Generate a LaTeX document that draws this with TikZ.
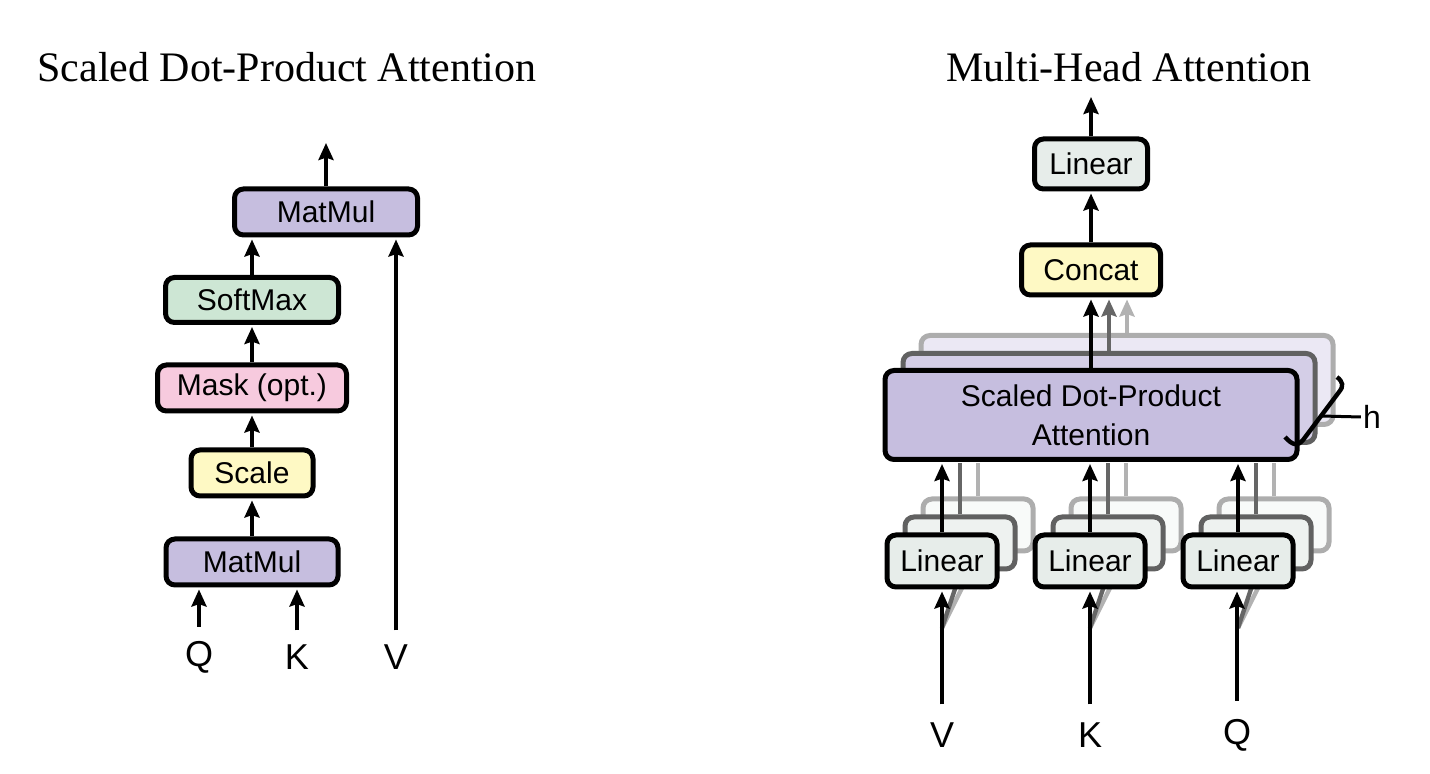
\documentclass[tikz,border=0pt]{standalone}
\usepackage{fontspec}
\setmainfont{Liberation Serif}
\newfontfamily\labfont{Liberation Sans}
\usepackage{tikz}
\usetikzlibrary{positioning, arrows.meta}

\definecolor{attn}{RGB}{198,190,223}
\definecolor{softc}{RGB}{205,230,212}
\definecolor{maskc}{RGB}{247,202,222}
\definecolor{scalec}{RGB}{254,249,196}
\definecolor{linc}{RGB}{231,237,234}

\begin{document}
\begin{tikzpicture}[x=0.5pt, y=-0.5pt, ->, >={Stealth[length=8.5pt, width=7.5pt, inset=1.2pt]}, line width=2.2pt,
    box/.style={draw, line width=2.5pt, rounded corners=4.5pt, inner sep=0pt,
        minimum height=23pt, font=\labfont\fontsize{15}{19.5}\selectfont},
    copya/.style={box, draw=black!62},
    copyb/.style={box, draw=black!32},
    lbl/.style={inner sep=0pt, font=\labfont\fontsize{18}{20}\selectfont},
    title/.style={inner sep=0pt, font=\fontsize{21}{25}\selectfont}]
    \useasboundingbox (0,0) rectangle (1430,774);

    % scaled dot-product attention
    \node[title] (sdtitle) at (287,67) {Scaled Dot-Product Attention};
    \node[box, fill=attn, minimum width=86pt] (mmbot) at (252,562) {MatMul};
    \node[box, fill=scalec, minimum width=61pt] (scale) at (252,473) {Scale};
    \node[box, fill=maskc, minimum width=94.5pt] (mask) at (252,388) {Mask (opt.)};
    \node[box, fill=softc, minimum width=86.5pt, minimum height=22.5pt] (softmax) at (252,300) {SoftMax};
    \node[box, fill=attn, minimum width=91.5pt] (mmtop) at (326,212) {MatMul};
    \node[lbl] (q) at (199,657) {Q};
    \node[lbl] (k) at (297,657) {K};
    \node[lbl] (v) at (396,657) {V};
    \coordinate (out1) at (326,143);
    \draw[shorten <=6pt, shorten >=1pt] (q) -- (q |- mmbot.south);
    \draw[shorten <=6pt, shorten >=1pt] (k) -- (k |- mmbot.south);
    \draw[shorten <=6pt, shorten >=1pt] (v) -- (v |- mmtop.south);
    \draw[shorten >=1pt] (mmbot) -- (scale);
    \draw[shorten >=1pt] (scale) -- (mask);
    \draw[shorten >=1pt] (mask) -- (softmax);
    \draw[shorten >=1pt] (softmax.north) -- (softmax.north |- mmtop.south);
    \draw (mmtop) -- (out1);

    % multi-head attention
    \node[title] (mhtitle) at (1129,67) {Multi-Head Attention};
    \node[box, fill=linc, minimum width=56.5pt, minimum height=25pt] (mhlinear) at (1091,164) {Linear};
    \node[box, fill=scalec, minimum width=69.5pt, minimum height=25pt] (concat) at (1091,270) {Concat};
    \node[copyb, fill=attn!35, minimum width=206pt, minimum height=44.5pt] (sdpab) at (1127,380) {};
    \node[copya, fill=attn!75, minimum width=206pt, minimum height=44.5pt] (sdpaa) at (1109,398) {};
    \draw[black!30, shorten >=1pt] (sdpab.north) -- (sdpab.north |- concat.south);
    \draw[black!60, shorten >=1pt] (sdpaa.north) -- (sdpaa.north |- concat.south);

    \node[lbl] (vin) at (942,735) {V};
    \node[lbl] (kin) at (1090,735) {K};
    \node[lbl] (qin) at (1237,735) {Q};
    \coordinate (vfan) at (942,628);
    \coordinate (kfan) at (1090,628);
    \coordinate (qfan) at (1238,628);
    \draw[-, black!30] (vfan) -- (978,556);
    \draw[-, black!30] (kfan) -- (1126,556);
    \draw[-, black!30] (qfan) -- (1274,556);
    \draw[-, black!60] (vfan) -- (960,574);
    \draw[-, black!60] (kfan) -- (1108,574);
    \draw[-, black!60] (qfan) -- (1256,574);

    \node[copyb, fill=linc!30, minimum width=55pt, minimum height=26pt] (linvb) at (978,525) {};
    \node[copyb, fill=linc!30, minimum width=55pt, minimum height=26pt] (linkb) at (1126,525) {};
    \node[copyb, fill=linc!30, minimum width=55pt, minimum height=26pt] (linqb) at (1274,525) {};
    \node[copya, fill=linc!70, minimum width=55pt, minimum height=26pt] (linva) at (960,543) {};
    \node[copya, fill=linc!70, minimum width=55pt, minimum height=26pt] (linka) at (1108,543) {};
    \node[copya, fill=linc!70, minimum width=55pt, minimum height=26pt] (linqa) at (1256,543) {};
    \draw[-, black!30] (linvb.north) -- (linvb.north |- 0,463);
    \draw[-, black!30] (linkb.north) -- (linkb.north |- 0,463);
    \draw[-, black!30] (linqb.north) -- (linqb.north |- 0,463);
    \draw[-, black!60] (linva.north) -- (linva.north |- 0,463);
    \draw[-, black!60] (linka.north) -- (linka.north |- 0,463);
    \draw[-, black!60] (linqa.north) -- (linqa.north |- 0,463);

    \node[box, fill=attn, minimum width=206pt, minimum height=44.5pt, align=center] (sdpa) at (1091,415)
        {Scaled Dot-Product\\Attention};
    \node[box, fill=linc, minimum width=55pt, minimum height=26pt] (linv) at (942,561) {Linear};
    \node[box, fill=linc, minimum width=55pt, minimum height=26pt] (link) at (1090,561) {Linear};
    \node[box, fill=linc, minimum width=55pt, minimum height=26pt] (linq) at (1238,561) {Linear};

    \draw[shorten <=8pt, shorten >=1pt] (vin) -- (vin |- linv.south);
    \draw[shorten <=8pt, shorten >=1pt] (kin) -- (kin |- link.south);
    \draw[shorten <=8pt, shorten >=1pt] (qin) -- (qin |- linq.south);
    \draw[shorten >=1pt] (linv.north) -- (linv.north |- sdpa.south);
    \draw[shorten >=1pt] (link.north) -- (link.north |- sdpa.south);
    \draw[shorten >=1pt] (linq.north) -- (linq.north |- sdpa.south);
    \draw[shorten >=1pt] (sdpa) -- (concat);
    \draw[shorten >=1pt] (concat) -- (mhlinear);
    \coordinate (out2) at (1091,97);
    \draw (mhlinear) -- (out2);

    % h bracket
    \node[inner sep=0pt, font=\labfont\fontsize{16}{18}\selectfont] (h) at (1372,417) {h};
    \draw[-, line width=2.2pt] (1285,437) .. controls (1293,446) and (1298,446) .. (1303,440)
        -- (1339,392) .. controls (1344,386) and (1343,382) .. (1337,377);
    \coordinate (hmid) at (1321,416);
    \draw[-, line width=1.5pt] (hmid) -- (h.west);
\end{tikzpicture}
\end{document}
